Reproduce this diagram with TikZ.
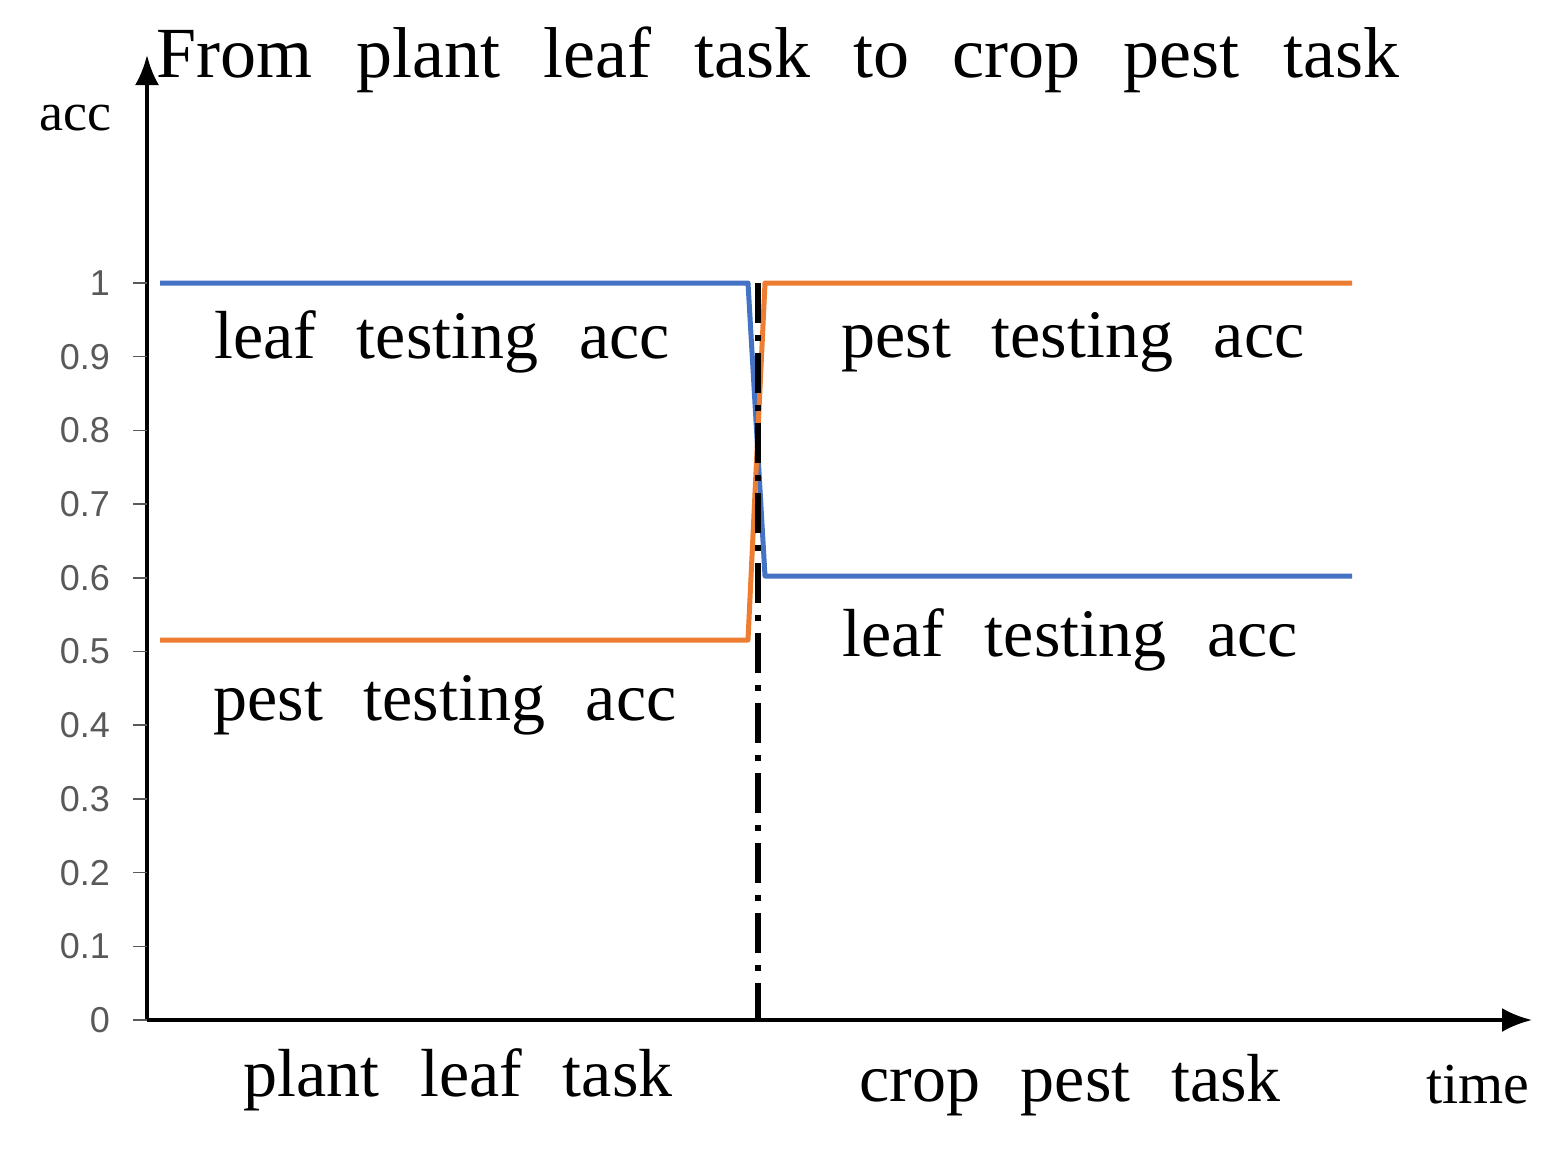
\documentclass[tikz,border=0pt]{standalone}
\usepackage{fontspec}
\setmainfont{Liberation Serif}[WordSpace={2.4,1,1}]
\newfontfamily\ticksf{Liberation Sans}
\usetikzlibrary{arrows.meta}
\definecolor{bl}{RGB}{68,114,196}
\definecolor{orn}{RGB}{237,125,49}
\definecolor{tg}{RGB}{89,89,89}
\begin{document}
\begin{tikzpicture}[x=1pt,y=-1pt,
  big/.style={font=\fontsize{68}{72}\selectfont,inner sep=0},
  ticklab/.style={font=\ticksf\fontsize{36}{38}\selectfont,text=tg,anchor=east,inner sep=0},
  axis/.style={line width=4pt,-{Latex[length=30pt,width=24pt]}},
  curve/.style={line width=5pt,line join=round}]
\useasboundingbox (0,0) rectangle (1565,1151);
\coordinate (o) at (147,1020);
\coordinate (ytop) at (147,55);
\coordinate (xend) at (1532,1020);
\draw[axis] (o) -- (ytop);
\draw[axis] (o) -- (xend);
\foreach \v [count=\i from 0] in {0,0.1,0.2,0.3,0.4,0.5,0.6,0.7,0.8,0.9,1}{
  \pgfmathsetmacro{\yy}{1020-73.7*\i}
  \draw[tg,line width=1.5pt] (133,\yy) -- (147,\yy);
  \node[ticklab] (t\i) at (110,\yy) {\v};
}
\draw[curve,bl] (160,283) -- (748,283) -- (765,576) -- (1352,576);
\draw[curve,orn] (160,640) -- (748,640) -- (765,283) -- (1352,283);
\coordinate (dtop) at (758,283);
\coordinate (dbot) at (758,1020);
\draw[line width=6pt,dash pattern=on 40pt off 12pt on 6pt off 12pt] (dtop) -- (dbot);
\node[big,font=\fontsize{72}{76}\selectfont] (title) at (778,60) {From plant leaf task to crop pest task};
\node[big,font=\fontsize{54}{58}\selectfont] (acc) at (75,118) {acc};
\node[big] (l1) at (442,342) {leaf testing acc};
\node[big] (p1) at (445,705) {pest testing acc};
\node[big] (p2) at (1073,342) {pest testing acc};
\node[big] (l2) at (1070,640) {leaf testing acc};
\node[big] (pl) at (458,1080) {plant leaf task};
\node[big] (cp) at (1070,1085) {crop pest task};
\node[big,font=\fontsize{58}{62}\selectfont] (time) at (1478,1085) {time};
\end{tikzpicture}
\end{document}
